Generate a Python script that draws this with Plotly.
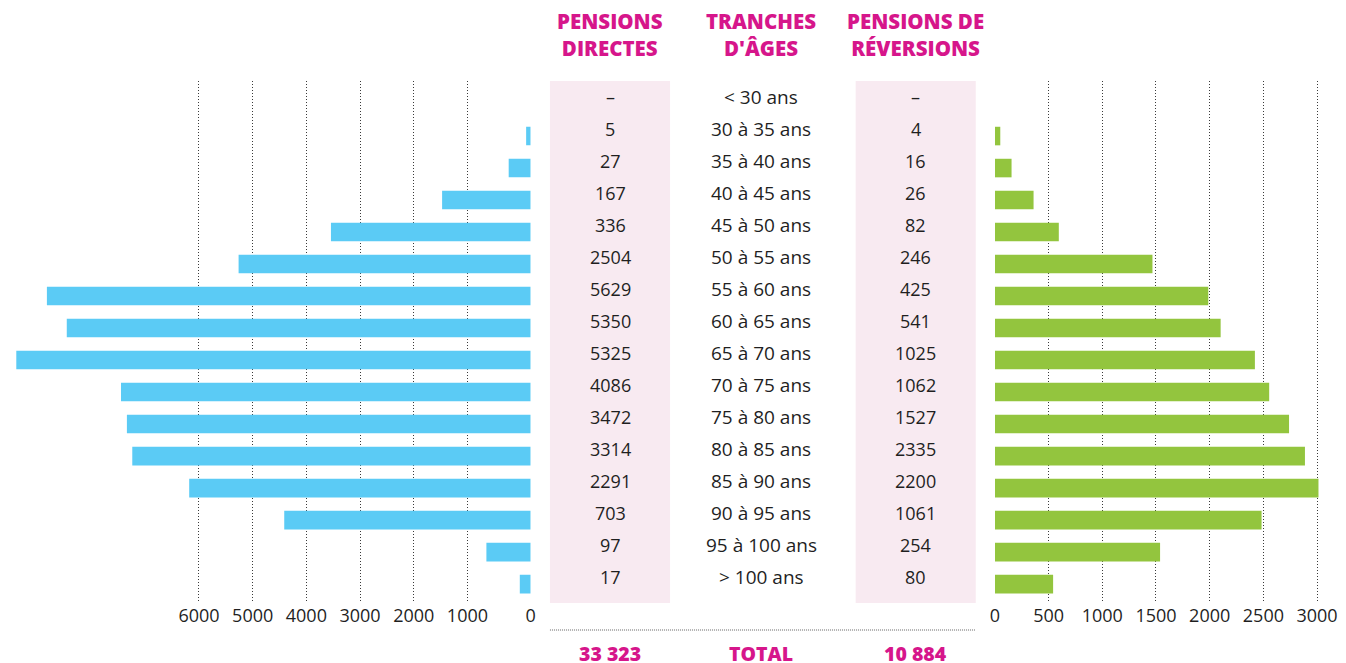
import plotly.graph_objects as go

# ---------------- data ----------------
age_groups = ["< 30 ans", "30 à 35 ans", "35 à 40 ans", "40 à 45 ans", "45 à 50 ans",
              "50 à 55 ans", "55 à 60 ans", "60 à 65 ans", "65 à 70 ans", "70 à 75 ans",
              "75 à 80 ans", "80 à 85 ans", "85 à 90 ans", "90 à 95 ans", "95 à 100 ans",
              "> 100 ans"]
# bar lengths
bars_directes = [None, 85, 410, 1650, 3720, 5440, 9010, 8640, 9580, 7630, 7520, 7420, 6360, 4590, 825, 203]
bars_reversions = [None, 50, 155, 360, 595, 1467, 1987, 2102, 2421, 2554, 2739, 2887, 3013, 2483, 1538, 542]
# table values
table_directes = ["–", "5", "27", "167", "336", "2504", "5629", "5350", "5325", "4086",
                  "3472", "3314", "2291", "703", "97", "17"]
table_reversions = ["–", "4", "16", "26", "82", "246", "425", "541", "1025", "1062",
                    "1527", "2335", "2200", "1061", "254", "80"]
total_directes = "33 323"
total_reversions = "10 884"
left_ticks = [0, 1000, 2000, 3000, 4000, 5000, 6000]
right_ticks = [0, 500, 1000, 1500, 2000, 2500, 3000]

# ---------------- style ----------------
OFF = 8                     # default page margin around the plot div
FW, FH = 1346 - OFF, 663 - OFF
BLUE = "#5BCBF5"
GREEN = "#93C53E"
MAGENTA = "#D6168B"
PINK = "#F8EAF1"
TEXT = "#1f1f1f"
FONT = "Open Sans"
LEFT_GRID_SHIFT = 178  # the reference's left gridlines sit offset from the bar base


def px(x):
    return (x - OFF) / FW


def py(y):
    return 1 - (y - OFF) / FH


fig = go.Figure()
fig.add_trace(go.Bar(y=age_groups, x=bars_directes, orientation="h", xaxis="x", yaxis="y",
                     marker=dict(color=BLUE, line=dict(width=0)), hoverinfo="x+y"))
fig.add_trace(go.Bar(y=age_groups, x=bars_reversions, orientation="h", xaxis="x2", yaxis="y",
                     marker=dict(color=GREEN, line=dict(width=0)), hoverinfo="x+y"))

left_base = 529.6
right_base = 997.3
left_scale = 0.0541   # px per unit
right_scale = 0.1082

left_tickvals = [0] + [t + LEFT_GRID_SHIFT for t in left_ticks[1:]]

fig.update_layout(
    width=FW, height=FH,
    margin=dict(l=0, r=0, t=0, b=0),
    paper_bgcolor="white", plot_bgcolor="white",
    showlegend=False, barmode="overlay", bargap=0.42,
    font=dict(family=FONT, color=TEXT, size=18),
    xaxis=dict(domain=[0, px(left_base)], range=[(left_base - OFF) / left_scale, 0],
               tickvals=left_tickvals, ticktext=[str(t) for t in left_ticks],
               showgrid=True, gridcolor="#3a3a3a", gridwidth=1, griddash="1px,2px",
               zeroline=False, showline=False, ticks="", anchor="y",
               tickfont=dict(size=18, color=TEXT, family=FONT)),
    xaxis2=dict(domain=[px(right_base), 1], range=[0, (1346 - right_base) / right_scale],
                tickvals=right_ticks, ticktext=[str(t) for t in right_ticks],
                showgrid=True, gridcolor="#3a3a3a", gridwidth=1, griddash="1px,2px",
                zeroline=False, showline=False, ticks="", anchor="y",
                tickfont=dict(size=18, color=TEXT, family=FONT)),
    yaxis=dict(domain=[py(603), py(81)], type="category",
               categoryorder="array", categoryarray=age_groups,
               range=[15.59, -0.72], showgrid=False, zeroline=False,
               showticklabels=False, showline=False, ticks=""),
)

# pink columns
for x0, x1 in [(549, 670), (857, 978)]:
    fig.add_shape(type="rect", xref="paper", yref="paper",
                  x0=px(x0), x1=px(x1), y0=py(603), y1=py(81),
                  fillcolor=PINK, line=dict(width=0), layer="below")

# dotted separator
fig.add_shape(type="line", xref="paper", yref="paper",
              x0=px(549), x1=px(978), y0=py(630), y1=py(630),
              line=dict(color="#666666", width=1, dash="1px,1px"))

col_left, col_mid, col_right = 609.5, 762, 917.5

# headers
for xc, txt in [(col_left, "PENSIONS<br>DIRECTES"),
                (col_mid, "TRANCHES<br>D'ÂGES"),
                (col_right, "PENSIONS DE<br>RÉVERSIONS")]:
    fig.add_annotation(x=px(xc), y=py(35), xref="paper", yref="paper",
                       text=txt, showarrow=False,
                       font=dict(size=20.5, color=MAGENTA, family=FONT, weight=800),
                       xanchor="center", yanchor="middle", align="center")

# table rows
for cat, dv, rv in zip(age_groups, table_directes, table_reversions):
    label = cat.replace("<", "&lt;").replace(">", "&gt;")
    for xc, txt, sz in [(col_left, dv, 18), (col_mid, label, 19), (col_right, rv, 18)]:
        fig.add_annotation(x=px(xc), y=cat, xref="paper", yref="y",
                           text=txt, showarrow=False, yshift=7,
                           font=dict(size=sz, color=TEXT, family=FONT),
                           xanchor="center", yanchor="middle")

# totals
for xc, txt in [(col_left, total_directes), (col_mid, "TOTAL"), (col_right, total_reversions)]:
    fig.add_annotation(x=px(xc), y=py(653), xref="paper", yref="paper",
                       text=txt, showarrow=False,
                       font=dict(size=19.5, color=MAGENTA, family=FONT, weight=800),
                       xanchor="center", yanchor="middle")

fig.write_html("out.html")
